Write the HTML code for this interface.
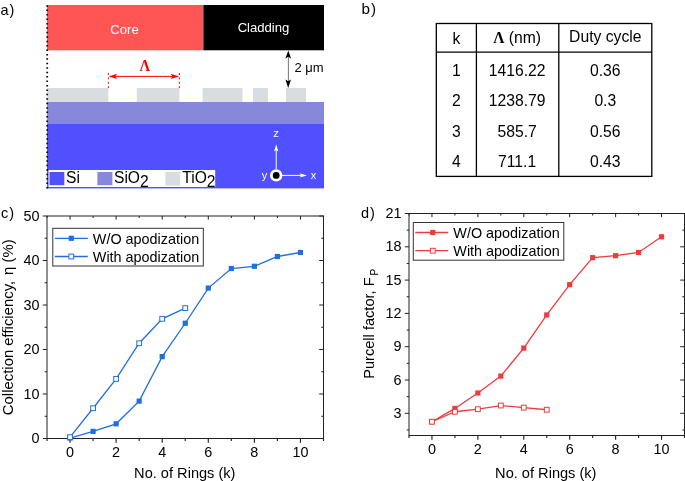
<!DOCTYPE html>
<html><head><meta charset="utf-8"><style>
html,body{margin:0;padding:0;background:#fff;}
svg{display:block;font-family:"Liberation Sans", sans-serif;will-change:transform;}
</style></head><body>
<svg width="685" height="481" viewBox="0 0 685 481" font-family='"Liberation Sans", sans-serif'>
<text x="0.5" y="15" font-size="14.5" letter-spacing="0.9" fill="#000">a)</text>
<rect x="47" y="5" width="156.4" height="45.3" fill="#ff5555"/>
<rect x="203.4" y="5" width="120.6" height="45.3" fill="#000"/>
<text x="124.5" y="33.5" font-size="13.1" fill="#fff" text-anchor="middle">Core</text>
<text x="263.5" y="31.8" font-size="13.1" fill="#fff" text-anchor="middle">Cladding</text>
<rect x="47" y="88" width="61.3" height="14" fill="#d9dce1"/>
<rect x="136.8" y="88" width="42.6" height="14" fill="#d9dce1"/>
<rect x="202.6" y="88" width="39.9" height="14" fill="#d9dce1"/>
<rect x="253" y="88" width="15.0" height="14" fill="#d9dce1"/>
<rect x="286" y="88" width="20.0" height="14" fill="#d9dce1"/>
<rect x="47" y="102" width="277" height="21.4" fill="#8787dc"/>
<rect x="47" y="123.4" width="277" height="65" fill="#5050ff"/>
<rect x="48.5" y="170" width="166.7" height="17" fill="#fff"/>
<rect x="49.5" y="172" width="14.8" height="13.2" fill="#5050ff"/>
<text x="66" y="183.4" font-size="15.6" fill="#000">Si</text>
<rect x="97.4" y="172" width="15" height="13.2" fill="#8787dc"/>
<text x="114" y="183.4" font-size="15.6" fill="#000">SiO<tspan dy="3.3">2</tspan></text>
<rect x="165.3" y="172" width="14.8" height="13.5" fill="#d9dce1"/>
<text x="182.3" y="183.4" font-size="15.6" fill="#000">TiO<tspan dy="3.3">2</tspan></text>
<line x1="47.2" y1="5.15" x2="47.2" y2="189" stroke="#000" stroke-width="1.8" stroke-dasharray="1.5 2.935"/>
<line x1="288.4" y1="55" x2="288.4" y2="83" stroke="#555" stroke-width="0.8"/>
<path d="M288.3 50.5 L285.4 58.5 L288.3 56.8 L291.1 58.5 Z" fill="#000"/>
<path d="M288.2 88 L285.4 79.4 L288.2 81.2 L291 79.4 Z" fill="#000"/>
<text x="294.5" y="71.9" font-size="13" fill="#000">2 μm</text>
<line x1="108.4" y1="73" x2="108.4" y2="88.2" stroke="#ff0000" stroke-width="1" stroke-dasharray="1.9 2.5"/>
<line x1="179.4" y1="73" x2="179.4" y2="88.2" stroke="#ff0000" stroke-width="1" stroke-dasharray="1.9 2.5"/>
<line x1="114" y1="76.4" x2="174" y2="76.4" stroke="#ff0000" stroke-width="1"/>
<path d="M108.6 76.4 L117.3 73.7 L115.2 76.4 L117.3 79.1 Z" fill="#ff0000"/>
<path d="M179.2 76.4 L170.5 73.7 L172.6 76.4 L170.5 79.1 Z" fill="#ff0000"/>
<text transform="translate(144.9,70.9) scale(0.9,1)" font-size="16.6" font-weight="bold" font-family="Liberation Serif, serif" fill="#ff0000" text-anchor="middle">Λ</text>
<line x1="276.2" y1="169" x2="276.2" y2="149" stroke="#fff" stroke-width="1"/>
<path d="M276.2 144.2 L274 151.5 L276.2 150 L278.4 151.5 Z" fill="#fff"/>
<line x1="282" y1="175.4" x2="302" y2="175.4" stroke="#fff" stroke-width="1"/>
<path d="M307 175.4 L299.7 173.2 L301.2 175.4 L299.7 177.6 Z" fill="#fff"/>
<circle cx="276.2" cy="175.4" r="6.2" fill="#fff"/>
<circle cx="276.2" cy="175.4" r="3.4" fill="#000"/>
<text x="276.2" y="136.8" font-size="11.3" fill="#fff" text-anchor="middle">z</text>
<text x="313.6" y="179" font-size="11" fill="#fff" text-anchor="middle">x</text>
<text x="264.4" y="179" font-size="11" fill="#fff" text-anchor="middle">y</text>
<text x="361.6" y="13.6" font-size="15.2" letter-spacing="0.9" fill="#000">b)</text>
<rect x="436.3" y="23.5" width="215.49999999999994" height="152.9" fill="none" stroke="#000" stroke-width="1.3"/>
<line x1="476.4" y1="23.5" x2="476.4" y2="176.4" stroke="#000" stroke-width="1.3"/>
<line x1="558.8" y1="23.5" x2="558.8" y2="176.4" stroke="#000" stroke-width="1.3"/>
<line x1="436.3" y1="52.2" x2="651.8" y2="52.2" stroke="#000" stroke-width="1.3"/>
<text x="456.4" y="43.7" font-size="15.7" text-anchor="middle">k</text>
<text x="517.1" y="42.5" font-size="15.7" text-anchor="middle"><tspan font-family="Liberation Serif, serif" font-weight="bold">Λ</tspan> (nm)</text>
<text x="605.3" y="42.3" font-size="15.7" text-anchor="middle">Duty cycle</text>
<text x="456.4" y="75.9" font-size="15.7" text-anchor="middle">1</text>
<text x="517.1" y="75.9" font-size="15.7" text-anchor="middle">1416.22</text>
<text x="605.3" y="75.9" font-size="15.7" text-anchor="middle">0.36</text>
<text x="456.4" y="106.2" font-size="15.7" text-anchor="middle">2</text>
<text x="517.1" y="106.2" font-size="15.7" text-anchor="middle">1238.79</text>
<text x="605.3" y="106.2" font-size="15.7" text-anchor="middle">0.3</text>
<text x="456.4" y="136.5" font-size="15.7" text-anchor="middle">3</text>
<text x="517.1" y="136.5" font-size="15.7" text-anchor="middle">585.7</text>
<text x="605.3" y="136.5" font-size="15.7" text-anchor="middle">0.56</text>
<text x="456.4" y="166.8" font-size="15.7" text-anchor="middle">4</text>
<text x="517.1" y="166.8" font-size="15.7" text-anchor="middle">711.1</text>
<text x="605.3" y="166.8" font-size="15.7" text-anchor="middle">0.43</text>
<line x1="47.00" y1="438.5" x2="47.00" y2="441.0" stroke="#222" stroke-width="1.15"/>
<line x1="47.00" y1="216.0" x2="47.00" y2="218.0" stroke="#222" stroke-width="1"/>
<line x1="70.04" y1="438.5" x2="70.04" y2="442.8" stroke="#222" stroke-width="1.15"/>
<line x1="70.04" y1="216.0" x2="70.04" y2="219.6" stroke="#222" stroke-width="1"/>
<text x="70.04" y="457.2" font-size="14.4" text-anchor="middle">0</text>
<line x1="93.08" y1="438.5" x2="93.08" y2="441.0" stroke="#222" stroke-width="1.15"/>
<line x1="93.08" y1="216.0" x2="93.08" y2="218.0" stroke="#222" stroke-width="1"/>
<line x1="116.12" y1="438.5" x2="116.12" y2="442.8" stroke="#222" stroke-width="1.15"/>
<line x1="116.12" y1="216.0" x2="116.12" y2="219.6" stroke="#222" stroke-width="1"/>
<text x="116.12" y="457.2" font-size="14.4" text-anchor="middle">2</text>
<line x1="139.17" y1="438.5" x2="139.17" y2="441.0" stroke="#222" stroke-width="1.15"/>
<line x1="139.17" y1="216.0" x2="139.17" y2="218.0" stroke="#222" stroke-width="1"/>
<line x1="162.21" y1="438.5" x2="162.21" y2="442.8" stroke="#222" stroke-width="1.15"/>
<line x1="162.21" y1="216.0" x2="162.21" y2="219.6" stroke="#222" stroke-width="1"/>
<text x="162.21" y="457.2" font-size="14.4" text-anchor="middle">4</text>
<line x1="185.25" y1="438.5" x2="185.25" y2="441.0" stroke="#222" stroke-width="1.15"/>
<line x1="185.25" y1="216.0" x2="185.25" y2="218.0" stroke="#222" stroke-width="1"/>
<line x1="208.29" y1="438.5" x2="208.29" y2="442.8" stroke="#222" stroke-width="1.15"/>
<line x1="208.29" y1="216.0" x2="208.29" y2="219.6" stroke="#222" stroke-width="1"/>
<text x="208.29" y="457.2" font-size="14.4" text-anchor="middle">6</text>
<line x1="231.33" y1="438.5" x2="231.33" y2="441.0" stroke="#222" stroke-width="1.15"/>
<line x1="231.33" y1="216.0" x2="231.33" y2="218.0" stroke="#222" stroke-width="1"/>
<line x1="254.38" y1="438.5" x2="254.38" y2="442.8" stroke="#222" stroke-width="1.15"/>
<line x1="254.38" y1="216.0" x2="254.38" y2="219.6" stroke="#222" stroke-width="1"/>
<text x="254.38" y="457.2" font-size="14.4" text-anchor="middle">8</text>
<line x1="277.42" y1="438.5" x2="277.42" y2="441.0" stroke="#222" stroke-width="1.15"/>
<line x1="277.42" y1="216.0" x2="277.42" y2="218.0" stroke="#222" stroke-width="1"/>
<line x1="300.46" y1="438.5" x2="300.46" y2="442.8" stroke="#222" stroke-width="1.15"/>
<line x1="300.46" y1="216.0" x2="300.46" y2="219.6" stroke="#222" stroke-width="1"/>
<text x="300.46" y="457.2" font-size="14.4" text-anchor="middle">10</text>
<line x1="323.50" y1="438.5" x2="323.50" y2="441.0" stroke="#222" stroke-width="1.15"/>
<line x1="323.50" y1="216.0" x2="323.50" y2="218.0" stroke="#222" stroke-width="1"/>
<line x1="42.8" y1="438.50" x2="47.0" y2="438.50" stroke="#222" stroke-width="1"/>
<line x1="323.5" y1="438.50" x2="319.2" y2="438.50" stroke="#222" stroke-width="1"/>
<text x="39.4" y="443.0" font-size="14.4" text-anchor="end">0</text>
<line x1="44.7" y1="416.25" x2="47.0" y2="416.25" stroke="#222" stroke-width="1"/>
<line x1="323.5" y1="416.25" x2="321.3" y2="416.25" stroke="#222" stroke-width="1"/>
<line x1="42.8" y1="394.00" x2="47.0" y2="394.00" stroke="#222" stroke-width="1"/>
<line x1="323.5" y1="394.00" x2="319.2" y2="394.00" stroke="#222" stroke-width="1"/>
<text x="39.4" y="398.5" font-size="14.4" text-anchor="end">10</text>
<line x1="44.7" y1="371.75" x2="47.0" y2="371.75" stroke="#222" stroke-width="1"/>
<line x1="323.5" y1="371.75" x2="321.3" y2="371.75" stroke="#222" stroke-width="1"/>
<line x1="42.8" y1="349.50" x2="47.0" y2="349.50" stroke="#222" stroke-width="1"/>
<line x1="323.5" y1="349.50" x2="319.2" y2="349.50" stroke="#222" stroke-width="1"/>
<text x="39.4" y="354.0" font-size="14.4" text-anchor="end">20</text>
<line x1="44.7" y1="327.25" x2="47.0" y2="327.25" stroke="#222" stroke-width="1"/>
<line x1="323.5" y1="327.25" x2="321.3" y2="327.25" stroke="#222" stroke-width="1"/>
<line x1="42.8" y1="305.00" x2="47.0" y2="305.00" stroke="#222" stroke-width="1"/>
<line x1="323.5" y1="305.00" x2="319.2" y2="305.00" stroke="#222" stroke-width="1"/>
<text x="39.4" y="309.5" font-size="14.4" text-anchor="end">30</text>
<line x1="44.7" y1="282.75" x2="47.0" y2="282.75" stroke="#222" stroke-width="1"/>
<line x1="323.5" y1="282.75" x2="321.3" y2="282.75" stroke="#222" stroke-width="1"/>
<line x1="42.8" y1="260.50" x2="47.0" y2="260.50" stroke="#222" stroke-width="1"/>
<line x1="323.5" y1="260.50" x2="319.2" y2="260.50" stroke="#222" stroke-width="1"/>
<text x="39.4" y="265.0" font-size="14.4" text-anchor="end">40</text>
<line x1="44.7" y1="238.25" x2="47.0" y2="238.25" stroke="#222" stroke-width="1"/>
<line x1="323.5" y1="238.25" x2="321.3" y2="238.25" stroke="#222" stroke-width="1"/>
<line x1="42.8" y1="216.00" x2="47.0" y2="216.00" stroke="#222" stroke-width="1"/>
<line x1="323.5" y1="216.00" x2="319.2" y2="216.00" stroke="#222" stroke-width="1"/>
<text x="39.4" y="220.5" font-size="14.4" text-anchor="end">50</text>
<rect x="47.0" y="216.0" width="276.5" height="222.5" fill="none" stroke="#222" stroke-width="1"/>
<polyline points="70.04,438.06 93.08,431.38 116.12,423.81 139.17,401.12 162.21,356.62 185.25,323.25 208.29,288.09 231.33,268.51 254.38,266.28 277.42,256.50 300.46,252.49" fill="none" stroke="#1f6fe0" stroke-width="1.3"/>
<rect x="67.44" y="435.45" width="5.2" height="5.2" fill="#1f6fe0"/>
<rect x="90.48" y="428.78" width="5.2" height="5.2" fill="#1f6fe0"/>
<rect x="113.53" y="421.21" width="5.2" height="5.2" fill="#1f6fe0"/>
<rect x="136.57" y="398.52" width="5.2" height="5.2" fill="#1f6fe0"/>
<rect x="159.61" y="354.02" width="5.2" height="5.2" fill="#1f6fe0"/>
<rect x="182.65" y="320.64" width="5.2" height="5.2" fill="#1f6fe0"/>
<rect x="205.69" y="285.49" width="5.2" height="5.2" fill="#1f6fe0"/>
<rect x="228.73" y="265.91" width="5.2" height="5.2" fill="#1f6fe0"/>
<rect x="251.78" y="263.68" width="5.2" height="5.2" fill="#1f6fe0"/>
<rect x="274.82" y="253.90" width="5.2" height="5.2" fill="#1f6fe0"/>
<rect x="297.86" y="249.89" width="5.2" height="5.2" fill="#1f6fe0"/>
<polyline points="70.04,437.17 93.08,408.24 116.12,378.87 139.17,343.27 162.21,318.80 185.25,308.12" fill="none" stroke="#1f6fe0" stroke-width="1.3"/>
<rect x="67.64" y="434.77" width="4.8" height="4.8" fill="#fff" stroke="#1f6fe0" stroke-width="1"/>
<rect x="90.68" y="405.84" width="4.8" height="4.8" fill="#fff" stroke="#1f6fe0" stroke-width="1"/>
<rect x="113.72" y="376.47" width="4.8" height="4.8" fill="#fff" stroke="#1f6fe0" stroke-width="1"/>
<rect x="136.77" y="340.87" width="4.8" height="4.8" fill="#fff" stroke="#1f6fe0" stroke-width="1"/>
<rect x="159.81" y="316.40" width="4.8" height="4.8" fill="#fff" stroke="#1f6fe0" stroke-width="1"/>
<rect x="182.85" y="305.72" width="4.8" height="4.8" fill="#fff" stroke="#1f6fe0" stroke-width="1"/>
<rect x="52.8" y="228.3" width="150.5" height="37.7" fill="#fff" stroke="#333" stroke-width="1"/>
<line x1="54.8" y1="238.3" x2="87.8" y2="238.3" stroke="#1f6fe0" stroke-width="1.3"/>
<line x1="54.8" y1="256.5" x2="87.8" y2="256.5" stroke="#1f6fe0" stroke-width="1.3"/>
<rect x="68.7" y="235.70000000000002" width="5.2" height="5.2" fill="#1f6fe0"/>
<rect x="68.89999999999999" y="254.1" width="4.8" height="4.8" fill="#fff" stroke="#1f6fe0" stroke-width="1"/>
<text x="92.8" y="243.60000000000002" font-size="14.4">W/O apodization</text>
<text x="92.8" y="261.8" font-size="14.4">With apodization</text>
<text x="184.8" y="478.0" font-size="14.6" text-anchor="middle">No. of Rings (k)</text>
<text transform="translate(13.0,327.3) rotate(-90)" font-size="14.9" text-anchor="middle">Collection efficiency, <tspan dx="1.7">η</tspan> (%)</text>
<text x="1" y="218" font-size="14.5" letter-spacing="0.9">c)</text>
<line x1="409.00" y1="435.5" x2="409.00" y2="438.0" stroke="#222" stroke-width="1.15"/>
<line x1="409.00" y1="213.5" x2="409.00" y2="215.5" stroke="#222" stroke-width="1"/>
<line x1="431.96" y1="435.5" x2="431.96" y2="439.8" stroke="#222" stroke-width="1.15"/>
<line x1="431.96" y1="213.5" x2="431.96" y2="217.1" stroke="#222" stroke-width="1"/>
<text x="431.96" y="454.2" font-size="14.4" text-anchor="middle">0</text>
<line x1="454.92" y1="435.5" x2="454.92" y2="438.0" stroke="#222" stroke-width="1.15"/>
<line x1="454.92" y1="213.5" x2="454.92" y2="215.5" stroke="#222" stroke-width="1"/>
<line x1="477.88" y1="435.5" x2="477.88" y2="439.8" stroke="#222" stroke-width="1.15"/>
<line x1="477.88" y1="213.5" x2="477.88" y2="217.1" stroke="#222" stroke-width="1"/>
<text x="477.88" y="454.2" font-size="14.4" text-anchor="middle">2</text>
<line x1="500.83" y1="435.5" x2="500.83" y2="438.0" stroke="#222" stroke-width="1.15"/>
<line x1="500.83" y1="213.5" x2="500.83" y2="215.5" stroke="#222" stroke-width="1"/>
<line x1="523.79" y1="435.5" x2="523.79" y2="439.8" stroke="#222" stroke-width="1.15"/>
<line x1="523.79" y1="213.5" x2="523.79" y2="217.1" stroke="#222" stroke-width="1"/>
<text x="523.79" y="454.2" font-size="14.4" text-anchor="middle">4</text>
<line x1="546.75" y1="435.5" x2="546.75" y2="438.0" stroke="#222" stroke-width="1.15"/>
<line x1="546.75" y1="213.5" x2="546.75" y2="215.5" stroke="#222" stroke-width="1"/>
<line x1="569.71" y1="435.5" x2="569.71" y2="439.8" stroke="#222" stroke-width="1.15"/>
<line x1="569.71" y1="213.5" x2="569.71" y2="217.1" stroke="#222" stroke-width="1"/>
<text x="569.71" y="454.2" font-size="14.4" text-anchor="middle">6</text>
<line x1="592.67" y1="435.5" x2="592.67" y2="438.0" stroke="#222" stroke-width="1.15"/>
<line x1="592.67" y1="213.5" x2="592.67" y2="215.5" stroke="#222" stroke-width="1"/>
<line x1="615.62" y1="435.5" x2="615.62" y2="439.8" stroke="#222" stroke-width="1.15"/>
<line x1="615.62" y1="213.5" x2="615.62" y2="217.1" stroke="#222" stroke-width="1"/>
<text x="615.62" y="454.2" font-size="14.4" text-anchor="middle">8</text>
<line x1="638.58" y1="435.5" x2="638.58" y2="438.0" stroke="#222" stroke-width="1.15"/>
<line x1="638.58" y1="213.5" x2="638.58" y2="215.5" stroke="#222" stroke-width="1"/>
<line x1="661.54" y1="435.5" x2="661.54" y2="439.8" stroke="#222" stroke-width="1.15"/>
<line x1="661.54" y1="213.5" x2="661.54" y2="217.1" stroke="#222" stroke-width="1"/>
<text x="661.54" y="454.2" font-size="14.4" text-anchor="middle">10</text>
<line x1="684.50" y1="435.5" x2="684.50" y2="438.0" stroke="#222" stroke-width="1.15"/>
<line x1="684.50" y1="213.5" x2="684.50" y2="215.5" stroke="#222" stroke-width="1"/>
<line x1="406.7" y1="429.95" x2="409.0" y2="429.95" stroke="#222" stroke-width="1"/>
<line x1="684.5" y1="429.95" x2="682.3" y2="429.95" stroke="#222" stroke-width="1"/>
<line x1="404.8" y1="413.30" x2="409.0" y2="413.30" stroke="#222" stroke-width="1"/>
<line x1="684.5" y1="413.30" x2="680.2" y2="413.30" stroke="#222" stroke-width="1"/>
<text x="401.4" y="417.8" font-size="14.4" text-anchor="end">3</text>
<line x1="406.7" y1="396.65" x2="409.0" y2="396.65" stroke="#222" stroke-width="1"/>
<line x1="684.5" y1="396.65" x2="682.3" y2="396.65" stroke="#222" stroke-width="1"/>
<line x1="404.8" y1="380.00" x2="409.0" y2="380.00" stroke="#222" stroke-width="1"/>
<line x1="684.5" y1="380.00" x2="680.2" y2="380.00" stroke="#222" stroke-width="1"/>
<text x="401.4" y="384.5" font-size="14.4" text-anchor="end">6</text>
<line x1="406.7" y1="363.35" x2="409.0" y2="363.35" stroke="#222" stroke-width="1"/>
<line x1="684.5" y1="363.35" x2="682.3" y2="363.35" stroke="#222" stroke-width="1"/>
<line x1="404.8" y1="346.70" x2="409.0" y2="346.70" stroke="#222" stroke-width="1"/>
<line x1="684.5" y1="346.70" x2="680.2" y2="346.70" stroke="#222" stroke-width="1"/>
<text x="401.4" y="351.2" font-size="14.4" text-anchor="end">9</text>
<line x1="406.7" y1="330.05" x2="409.0" y2="330.05" stroke="#222" stroke-width="1"/>
<line x1="684.5" y1="330.05" x2="682.3" y2="330.05" stroke="#222" stroke-width="1"/>
<line x1="404.8" y1="313.40" x2="409.0" y2="313.40" stroke="#222" stroke-width="1"/>
<line x1="684.5" y1="313.40" x2="680.2" y2="313.40" stroke="#222" stroke-width="1"/>
<text x="401.4" y="317.9" font-size="14.4" text-anchor="end">12</text>
<line x1="406.7" y1="296.75" x2="409.0" y2="296.75" stroke="#222" stroke-width="1"/>
<line x1="684.5" y1="296.75" x2="682.3" y2="296.75" stroke="#222" stroke-width="1"/>
<line x1="404.8" y1="280.10" x2="409.0" y2="280.10" stroke="#222" stroke-width="1"/>
<line x1="684.5" y1="280.10" x2="680.2" y2="280.10" stroke="#222" stroke-width="1"/>
<text x="401.4" y="284.6" font-size="14.4" text-anchor="end">15</text>
<line x1="406.7" y1="263.45" x2="409.0" y2="263.45" stroke="#222" stroke-width="1"/>
<line x1="684.5" y1="263.45" x2="682.3" y2="263.45" stroke="#222" stroke-width="1"/>
<line x1="404.8" y1="246.80" x2="409.0" y2="246.80" stroke="#222" stroke-width="1"/>
<line x1="684.5" y1="246.80" x2="680.2" y2="246.80" stroke="#222" stroke-width="1"/>
<text x="401.4" y="251.3" font-size="14.4" text-anchor="end">18</text>
<line x1="406.7" y1="230.15" x2="409.0" y2="230.15" stroke="#222" stroke-width="1"/>
<line x1="684.5" y1="230.15" x2="682.3" y2="230.15" stroke="#222" stroke-width="1"/>
<line x1="404.8" y1="213.50" x2="409.0" y2="213.50" stroke="#222" stroke-width="1"/>
<line x1="684.5" y1="213.50" x2="680.2" y2="213.50" stroke="#222" stroke-width="1"/>
<text x="401.4" y="218.0" font-size="14.4" text-anchor="end">21</text>
<rect x="409.0" y="213.5" width="275.5" height="222.0" fill="none" stroke="#222" stroke-width="1"/>
<polyline points="431.96,421.74 454.92,408.42 477.88,392.99 500.83,376.12 523.79,348.14 546.75,314.95 569.71,284.65 592.67,257.68 615.62,255.68 638.58,252.46 661.54,236.81" fill="none" stroke="#ee3b3b" stroke-width="1.3"/>
<rect x="429.36" y="419.14" width="5.2" height="5.2" fill="#ee3b3b"/>
<rect x="452.32" y="405.82" width="5.2" height="5.2" fill="#ee3b3b"/>
<rect x="475.27" y="390.39" width="5.2" height="5.2" fill="#ee3b3b"/>
<rect x="498.23" y="373.51" width="5.2" height="5.2" fill="#ee3b3b"/>
<rect x="521.19" y="345.54" width="5.2" height="5.2" fill="#ee3b3b"/>
<rect x="544.15" y="312.35" width="5.2" height="5.2" fill="#ee3b3b"/>
<rect x="567.11" y="282.05" width="5.2" height="5.2" fill="#ee3b3b"/>
<rect x="590.07" y="255.08" width="5.2" height="5.2" fill="#ee3b3b"/>
<rect x="613.02" y="253.08" width="5.2" height="5.2" fill="#ee3b3b"/>
<rect x="635.98" y="249.86" width="5.2" height="5.2" fill="#ee3b3b"/>
<rect x="658.94" y="234.21" width="5.2" height="5.2" fill="#ee3b3b"/>
<polyline points="431.96,421.74 454.92,411.75 477.88,409.19 500.83,405.53 523.79,407.64 546.75,409.75" fill="none" stroke="#ee3b3b" stroke-width="1.3"/>
<rect x="429.56" y="419.34" width="4.8" height="4.8" fill="#fff" stroke="#ee3b3b" stroke-width="1"/>
<rect x="452.52" y="409.35" width="4.8" height="4.8" fill="#fff" stroke="#ee3b3b" stroke-width="1"/>
<rect x="475.48" y="406.79" width="4.8" height="4.8" fill="#fff" stroke="#ee3b3b" stroke-width="1"/>
<rect x="498.43" y="403.13" width="4.8" height="4.8" fill="#fff" stroke="#ee3b3b" stroke-width="1"/>
<rect x="521.39" y="405.24" width="4.8" height="4.8" fill="#fff" stroke="#ee3b3b" stroke-width="1"/>
<rect x="544.35" y="407.35" width="4.8" height="4.8" fill="#fff" stroke="#ee3b3b" stroke-width="1"/>
<rect x="413.3" y="222.5" width="150.5" height="37.7" fill="#fff" stroke="#333" stroke-width="1"/>
<line x1="415.3" y1="232.5" x2="448.3" y2="232.5" stroke="#ee3b3b" stroke-width="1.3"/>
<line x1="415.3" y1="250.7" x2="448.3" y2="250.7" stroke="#ee3b3b" stroke-width="1.3"/>
<rect x="430.2" y="229.9" width="5.2" height="5.2" fill="#ee3b3b"/>
<rect x="430.40000000000003" y="248.29999999999998" width="4.8" height="4.8" fill="#fff" stroke="#ee3b3b" stroke-width="1"/>
<text x="453.3" y="237.8" font-size="14.4">W/O apodization</text>
<text x="453.3" y="256.0" font-size="14.4">With apodization</text>
<text x="545.8" y="477.8" font-size="14.6" text-anchor="middle">No. of Rings (k)</text>
<text transform="translate(374.0,323.8) rotate(-90)" font-size="14.6" text-anchor="middle">Purcell factor, F<tspan font-size="10" dx="1.9" dy="3.8">P</tspan></text>
<text x="361" y="217.5" font-size="14.5" letter-spacing="0.9">d)</text>
</svg>
</body></html>
